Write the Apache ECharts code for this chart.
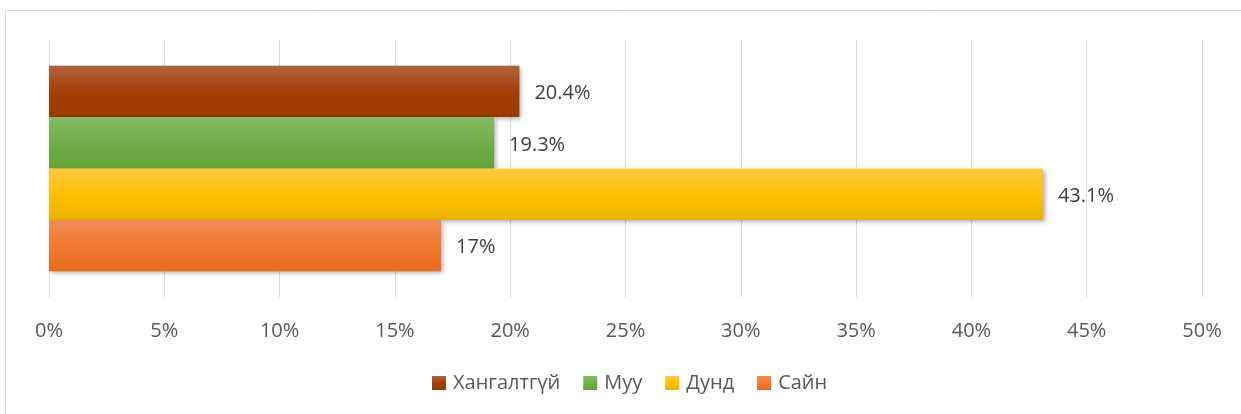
<!DOCTYPE html>
<html>
<head>
<meta charset="utf-8">
<script src="https://cdn.jsdelivr.net/npm/echarts@6/dist/echarts.min.js"></script>
<style>
  html, body { margin: 0; padding: 0; background: #fff; }
  #chart { width: 1241px; height: 414px; }
</style>
</head>
<body>
<div id="chart"></div>
<script>
// data
const categories = ['']
const seriesNames = ['Хангалтгүй', 'Муу', 'Дунд', 'Сайн']
const seriesValues = [[20.4], [19.3], [43.1], [17]]
const axisMax = 50
const axisStep = 5

// office-like gradient per series: top, middle, bottom
const seriesColors = [
  ['#B0643F', '#A43F05', '#9A3A00'],
  ['#84BB62', '#70AD47', '#62A437'],
  ['#FFC843', '#FFC000', '#EAB300'],
  ['#F18C55', '#F07A2F', '#E86B1C']
]

const fontFamily = '"Open Sans", "Noto Sans", sans-serif'

const makeGradient = (c) => new echarts.graphic.LinearGradient(0, 0, 0, 1, [
  { offset: 0, color: c[0] },
  { offset: 0.5, color: c[1] },
  { offset: 1, color: c[2] }
])

const chart = echarts.init(document.getElementById('chart'))

chart.setOption({
  backgroundColor: '#fff',
  animation: false,
  textStyle: { fontFamily },
  graphic: [
    {
      type: 'polyline',
      silent: true,
      shape: { points: [[5.5, 414], [5.5, 10.5], [1241, 10.5]] },
      style: { stroke: '#d9d9d9', lineWidth: 1, fill: null }
    }
  ],
  grid: {
    left: 49,
    right: 39,
    top: 40,
    bottom: 117
  },
  legend: {
    top: 368,
    left: 427,
    itemWidth: 14,
    itemHeight: 14,
    itemGap: 23,
    icon: 'rect',
    data: seriesNames,
    textStyle: { color: '#595959', fontSize: 20, fontFamily, padding: [0, 0, 0, 2] }
  },
  xAxis: {
    type: 'value',
    min: 0,
    max: axisMax,
    interval: axisStep,
    axisLine: { show: false },
    axisTick: { show: false },
    axisLabel: {
      color: '#595959',
      fontSize: 20,
      margin: 24,
      formatter: '{value}%'
    },
    splitLine: { lineStyle: { color: '#d9d9d9', width: 1 } }
  },
  yAxis: {
    type: 'category',
    data: categories,
    axisLine: { show: false },
    axisTick: { show: false },
    axisLabel: { show: false }
  },
  series: seriesNames.map((name, i) => ({
    name,
    type: 'bar',
    data: seriesValues[i],
    barGap: '0%',
    barCategoryGap: '20%',
    itemStyle: {
      color: makeGradient(seriesColors[i]),
      shadowColor: 'rgba(0,0,0,0.35)',
      shadowBlur: 5,
      shadowOffsetX: 2,
      shadowOffsetY: 2
    },
    label: {
      show: true,
      position: 'right',
      distance: 15,
      offset: [0, 2],
      color: '#404040',
      fontSize: 20,
      fontFamily,
      formatter: '{c}%'
    }
  }))
})

window.addEventListener('resize', () => chart.resize())
</script>
</body>
</html>
